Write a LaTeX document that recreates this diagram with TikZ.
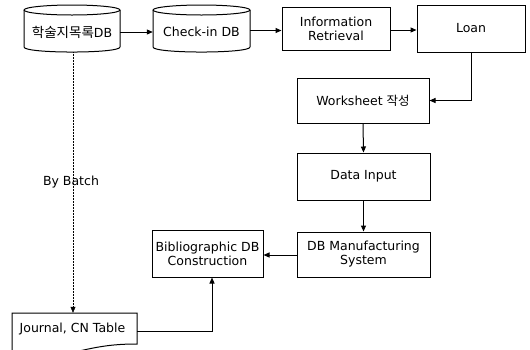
\documentclass[tikz,border=0pt]{standalone}
\usepackage{fontspec}
\setmainfont{DejaVu Sans}
\newfontfamily\krfont{Noto Sans CJK KR}
\usetikzlibrary{arrows.meta}
\begin{document}
\begin{tikzpicture}[x=1pt,y=-1pt,
  box/.style={draw, line width=1pt, inner sep=0pt, align=center, font=\fontsize{12.5}{14}\selectfont},
  txt/.style={inner sep=0pt, align=center, font=\fontsize{12.5}{14}\selectfont},
  arr/.style={line width=1pt, -{Triangle[length=6pt,width=5pt]}},
  ln/.style={line width=1pt},
  batch/.style={line width=0.5pt, densely dotted, -{Triangle[length=6pt,width=5pt]}}]
\useasboundingbox (0,0) rectangle (530,349);
\clip (0,0) rectangle (530,349);

% cylinders
\node[txt, minimum width=96pt, minimum height=47pt] (cyl1) at (72,28.5) {};
\draw[ln] (24,10) -- (24,47) .. controls (24,53.7) and (120,53.7) .. (120,47) -- (120,10);
\draw[ln] (72,10) ellipse [x radius=48, y radius=5];
\node[txt] (cyl1t) at (72,32) {{\krfont\fontsize{13.5}{14}\selectfont 학술지목록}DB};

\node[txt, minimum width=97pt, minimum height=47pt] (cyl2) at (201.5,28.5) {};
\draw[ln] (153,10) -- (153,47) .. controls (153,53.7) and (250,53.7) .. (250,47) -- (250,10);
\draw[ln] (201.5,10) ellipse [x radius=48.5, y radius=5];
\node[txt] (cyl2t) at (201.5,32) {Check-in DB};

% boxes
\node[box, minimum width=108pt, minimum height=43pt] (info) at (336,28.5) {Information\\Retrieval};
\node[box, minimum width=108pt, minimum height=47pt] (loan) at (471,28.5) {Loan};
\node[box, minimum width=132pt, minimum height=45pt] (ws) at (363,100.5) {Worksheet {\krfont 작성}};
\node[box, minimum width=133pt, minimum height=47pt] (din) at (363.5,176.5) {Data Input};
\node[box, minimum width=133pt, minimum height=45pt] (dbm) at (363.5,254.5) {DB Manufacturing\\System};
\node[box, minimum width=111pt, minimum height=47pt] (bib) at (207.5,253.5) {Bibliographic DB\\Construction};

% document shape
\node[txt, minimum width=125pt, minimum height=34pt] (jrn) at (74.5,330) {};
\draw[ln] (12,313) -- (137,313) -- (137,344)
  .. controls (115,344) and (100,346) .. (75,352)
  .. controls (50,358) and (30,356) .. (12,352) -- cycle;
\node[txt] (jrnt) at (72.5,328.5) {Journal, CN Table};

% connectors
\draw[arr] (cyl1.east |- 0,32) -- (cyl2.west |- 0,32);
\draw[arr] (cyl2.east |- 0,30.5) -- (info.west |- 0,30.5);
\draw[arr] (info.east |- 0,30) -- (loan.west |- 0,30);
\draw[arr] (loan.south) |- (ws.east);
\draw[arr] (ws.south) -- (din.north);
\draw[arr] (din.south) -- (dbm.north);
\draw[arr] (dbm.west |- 0,255) -- (bib.east |- 0,255);
\draw[arr] (jrn.east |- 0,331) -| ([xshift=4.5pt]bib.south);
\draw[batch] ([xshift=1pt]cyl1.south) -- node[pos=0.5, xshift=-2pt, txt] {By Batch} ([xshift=1pt]jrn.north -| cyl1.south);
\end{tikzpicture}
\end{document}
